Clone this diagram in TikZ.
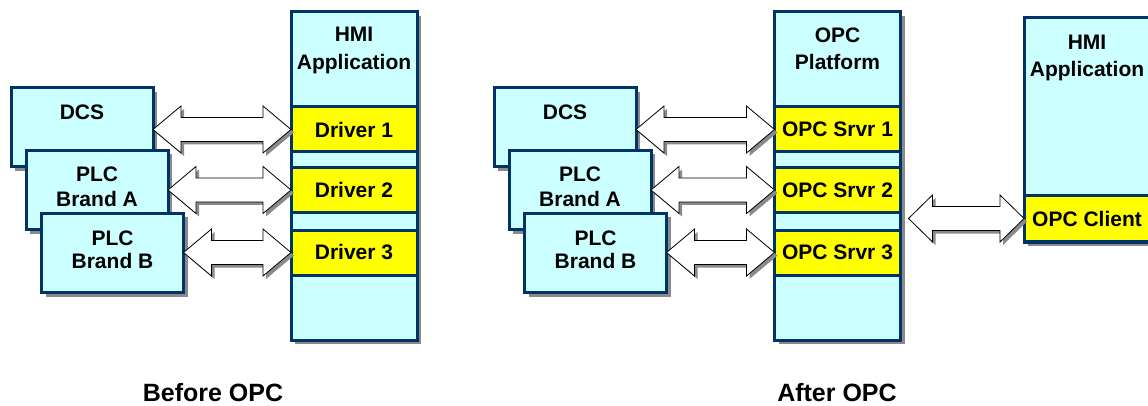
\documentclass[tikz,border=0pt]{standalone}
\usepackage{fontspec}
\setmainfont{Liberation Sans}
\usetikzlibrary{shadows,calc}

\definecolor{frame}{HTML}{003366}
\definecolor{panel}{HTML}{CCFFFF}
\definecolor{slotfill}{HTML}{FFFF00}
\definecolor{shade}{HTML}{8A8A8A}

\tikzset{
  box/.style={rectangle, draw=frame, line width=3pt, fill=panel, inner sep=0pt, outer sep=0pt,
    drop shadow={shadow xshift=4pt, shadow yshift=-4pt, fill=shade, opacity=1}},
  device/.style={box, minimum width=142pt, minimum height=79pt},
  column/.style={box, minimum width=126pt},
  slotbox/.style={rectangle, draw=frame, line width=3pt, fill=slotfill, inner sep=0pt, outer sep=0pt,
    minimum width=126pt, minimum height=45pt},
  txt/.style={anchor=base, inner sep=0pt},
  caption/.style={font=\bfseries\fontsize{25}{29}\selectfont},
  blockarrow/.style={draw=black, line width=0.8pt, fill=white, line join=miter,
    drop shadow={shadow xshift=3pt, shadow yshift=-3pt, fill=shade, opacity=1}},
}

% double-headed block arrow between two points, drawn at the height of the second
% #1 head length, #2 start, #3 end
\newcommand\twoway[3][28]{%
  \path[blockarrow] let \p1=(#2), \p2=(#3) in
    (\x1,\y2) -- (\x1+#1pt,\y2+23.5pt) -- (\x1+#1pt,\y2+12pt) -- (\x2-#1pt,\y2+12pt)
    -- (\x2-#1pt,\y2+23.5pt) -- (\x2,\y2) -- (\x2-#1pt,\y2-23.5pt) -- (\x2-#1pt,\y2-12pt)
    -- (\x1+#1pt,\y2-12pt) -- (\x1+#1pt,\y2-23.5pt) -- cycle;%
}

\begin{document}
\begin{tikzpicture}[x=1pt, y=-1pt, font=\bfseries\fontsize{21}{24}\selectfont]
\useasboundingbox (0,0) rectangle (1148,406);
\clip (0,0) rectangle (1148,406);

% ---------- before OPC ----------
\node[device] (dcsA) at (82,127.5) {};
\node[txt] (dcsAt) at (82,120) {DCS};
\node[device] (plcaA) at (97,190) {};
\node[txt] (plcaAt1) at (97,182) {PLC};
\node[txt] (plcaAt2) at (97,207) {Brand A};
\node[device] (plcbA) at (112.5,253) {};
\node[txt] (plcbAt1) at (112.5,245) {PLC};
\node[txt] (plcbAt2) at (112.5,268) {Brand B};

\node[column, minimum height=328pt] (hmiA) at (354,176) {};
\node[txt] (hmiAt1) at (354,42) {HMI};
\node[txt] (hmiAt2) at (354,70) {Application};
\node[slotbox] (drv1) at (354,129.5) {Driver 1};
\node[slotbox] (drv2) at (354,190) {Driver 2};
\node[slotbox] (drv3) at (354,252.5) {Driver 3};

\twoway{dcsA.east}{drv1.west}
\twoway{plcaA.east}{drv2.west}
\twoway{plcbA.east}{drv3.west}

\node[caption] (capA) at (213,393) {Before OPC};

% ---------- after OPC ----------
\node[device] (dcsB) at (565,127.5) {};
\node[txt] (dcsBt) at (565,120) {DCS};
\node[device] (plcaB) at (580,190) {};
\node[txt] (plcaBt1) at (580,182) {PLC};
\node[txt] (plcaBt2) at (580,207) {Brand A};
\node[device] (plcbB) at (595.5,253) {};
\node[txt] (plcbBt1) at (595.5,245) {PLC};
\node[txt] (plcbBt2) at (595.5,268) {Brand B};

\node[column, minimum height=328pt] (platform) at (837.5,176) {};
\node[txt] (platt1) at (837.5,43) {OPC};
\node[txt] (platt2) at (837.5,70) {Platform};
\node[slotbox] (srv1) at (837.5,129.5) {OPC Srvr 1};
\node[slotbox] (srv2) at (837.5,190) {OPC Srvr 2};
\node[slotbox] (srv3) at (837.5,252.5) {OPC Srvr 3};

\twoway{dcsB.east}{srv1.west}
\twoway{plcaB.east}{srv2.west}
\twoway{plcbB.east}{srv3.west}

\node[column, minimum height=224pt] (hmiB) at (1087,130) {};
\node[txt] (hmiBt1) at (1087,50) {HMI};
\node[txt] (hmiBt2) at (1087,77) {Application};
\node[slotbox] (client) at (1087,218.5) {OPC Client};

\coordinate (platOut) at ($(platform.east)+(8,0)$);
\twoway[24]{platOut}{client.west}

\node[caption] (capB) at (837,393) {After OPC};
\end{tikzpicture}
\end{document}
